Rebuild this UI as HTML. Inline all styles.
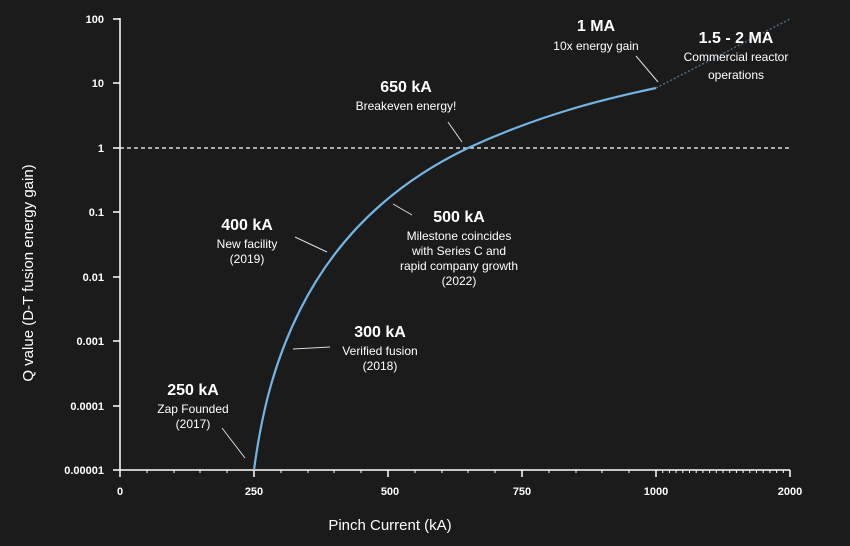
<!DOCTYPE html>
<html><head><meta charset="utf-8"><style>
html,body{margin:0;padding:0;background:#1b1b1b;}
svg{display:block;font-family:"Liberation Sans",sans-serif;}
</style></head><body>
<svg width="850" height="546" viewBox="0 0 850 546" xmlns="http://www.w3.org/2000/svg">
<rect width="850" height="546" fill="#1b1b1b"/>
<g fill="#fff" font-size="11" font-weight="bold" text-anchor="end">
<text x="104" y="23">100</text>
<text x="104" y="87">10</text>
<text x="104" y="152">1</text>
<text x="104" y="216">0.1</text>
<text x="104" y="281">0.01</text>
<text x="104" y="345">0.001</text>
<text x="104" y="410">0.0001</text>
<text x="104" y="474">0.00001</text>
</g>
<g stroke="#fff" stroke-width="1.5">
<line x1="120" y1="18" x2="120" y2="470"/>
<line x1="113" y1="470" x2="790" y2="470"/>
<line x1="113" y1="19" x2="120" y2="19"/><line x1="113" y1="83" x2="120" y2="83"/>
<line x1="113" y1="148" x2="120" y2="148"/><line x1="113" y1="212" x2="120" y2="212"/>
<line x1="113" y1="277" x2="120" y2="277"/><line x1="113" y1="341" x2="120" y2="341"/>
<line x1="113" y1="406" x2="120" y2="406"/>
<line x1="120" y1="470" x2="120" y2="477"/><line x1="254" y1="470" x2="254" y2="477"/>
<line x1="388" y1="470" x2="388" y2="477"/><line x1="522" y1="470" x2="522" y2="477"/>
<line x1="656" y1="470" x2="656" y2="477"/><line x1="790" y1="470" x2="790" y2="477"/>
</g>
<g stroke="#fff" stroke-width="1">
<path d="M147,470v3M174,470v3M200,470v3M227,470v3M281,470v3M308,470v3M334,470v3M361,470v3M415,470v3M442,470v3M468,470v3M495,470v3M549,470v3M576,470v3M602,470v3M629,470v3"/>
<path d="M662.7,470v3M669.4,470v3M676.1,470v3M682.8,470v3M689.5,470v3M696.2,470v3M702.9,470v3M709.6,470v3M716.3,470v3M723,470v3M729.7,470v3M736.4,470v3M743.1,470v3M749.8,470v3M756.5,470v3M763.2,470v3M769.9,470v3M776.6,470v3M783.3,470v3"/>
</g>
<g fill="#fff" font-size="11" font-weight="bold" text-anchor="middle">
<text x="120" y="495">0</text><text x="254" y="495">250</text><text x="390" y="495">500</text>
<text x="522" y="495">750</text><text x="656" y="495">1000</text><text x="790" y="495">2000</text>
</g>
<text x="390" y="530" fill="#fff" font-size="15" text-anchor="middle">Pinch Current (kA)</text>
<text transform="translate(33,273) rotate(-90)" fill="#fff" font-size="15" text-anchor="middle">Q value (D-T fusion energy gain)</text>
<line x1="120" y1="148" x2="790" y2="148" stroke="#fff" stroke-width="1.2" stroke-dasharray="4,3"/>
<path d="M254,470 C262,410 275,360 300,310 C330,250 380,190 468,148 C540,115 600,100 656,88" fill="none" stroke="#74b3e2" stroke-width="2.2"/>
<line x1="656" y1="88" x2="790" y2="19" stroke="#4f6a80" stroke-width="1.5" stroke-dasharray="2,2"/>
<g stroke="#ddd" stroke-width="1">
<line x1="222" y1="428" x2="245" y2="458"/>
<line x1="293" y1="349" x2="330" y2="347"/>
<line x1="295" y1="237" x2="327" y2="252"/>
<line x1="393" y1="204" x2="412" y2="215"/>
<line x1="448" y1="122" x2="462" y2="142"/>
<line x1="636" y1="56" x2="658" y2="82"/>
</g>
<g fill="#fff" text-anchor="middle">
<text x="193" y="395" font-size="16" font-weight="bold">250 kA</text>
<text x="193" y="413" font-size="12">Zap Founded</text>
<text x="193" y="428" font-size="12">(2017)</text>
<text x="380" y="337" font-size="16" font-weight="bold">300 kA</text>
<text x="380" y="355" font-size="12">Verified fusion</text>
<text x="380" y="370" font-size="12">(2018)</text>
<text x="247" y="230" font-size="16" font-weight="bold">400 kA</text>
<text x="247" y="248" font-size="12">New facility</text>
<text x="247" y="263" font-size="12">(2019)</text>
<text x="459" y="222" font-size="16" font-weight="bold">500 kA</text>
<text x="459" y="240" font-size="12">Milestone coincides</text>
<text x="459" y="255" font-size="12">with Series C and</text>
<text x="459" y="270" font-size="12">rapid company growth</text>
<text x="459" y="285" font-size="12">(2022)</text>
<text x="406" y="92" font-size="16" font-weight="bold">650 kA</text>
<text x="406" y="110" font-size="12">Breakeven energy!</text>
<text x="596" y="31" font-size="16" font-weight="bold">1 MA</text>
<text x="596" y="50" font-size="12">10x energy gain</text>
<text x="736" y="43" font-size="16" font-weight="bold">1.5 - 2 MA</text>
<text x="736" y="61" font-size="12">Commercial reactor</text>
<text x="736" y="79" font-size="12">operations</text>
</g>
</svg>
</body></html>
